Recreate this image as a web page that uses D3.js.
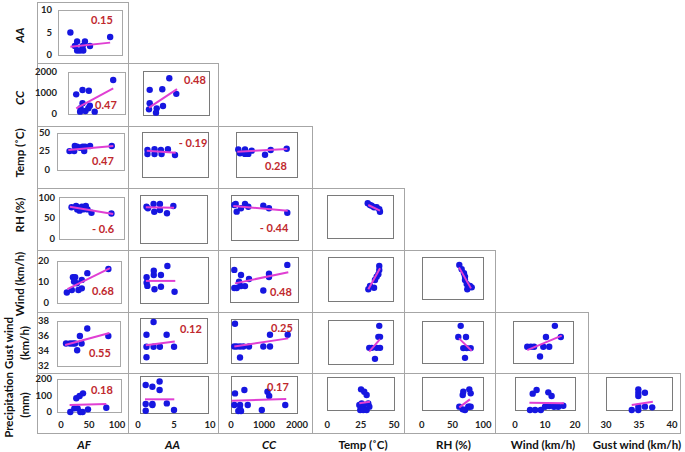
<!DOCTYPE html>
<html><head><meta charset="utf-8">
<script src="https://cdn.jsdelivr.net/npm/d3@7"></script>
<style>
html,body{margin:0;padding:0;background:#fff;}
svg{display:block;font-family:Lato,"Open Sans",sans-serif;}
</style></head>
<body>
<script>
// ---------- variables / axes ----------
const colNames = ["AF","AA","CC","Temp (˚C)","RH (%)","Wind (km/h)","Gust wind (km/h)"];
const rowNames = [["AA"],["CC"],["Temp (˚C)"],["RH (%)"],["Wind (km/h)"],["Gust wind","(km/h)"],["Precipitation","(mm)"]];
const colDomains = [[0,100],[0,10],[0,2000],[0,50],[0,100],[0,20],[30,40]];
const rowDomains = [[0,10],[0,2000],[0,50],[0,100],[0,20],[32,38],[0,200]];
const colTicks = [[0,50,100],[0,5,10],[0,1000,2000],[0,25,50],[0,50,100],[0,10,20],[30,35,40]];
const rowTicks = [[0,5,10],[0,1000,2000],[0,25,50],[0,50,100],[0,10,20],[32,34,36,38],[0,100,200]];

// ---------- scatter values per panel [x, y] ----------
const AA_AF = [[15,5],[27,3],[23,2],[27,1],[32,1],[37,2],[41,3],[38,1],[50,2],[86,4]];
const CC_AF = [[8,930],[21,1135],[34,1100],[21,505],[17,270],[16,110],[27,140],[33,270],[36,390],[46,110],[84,1610]];
const CC_AA = [[1.2,1130],[3,1160],[4,1655],[5,950],[1.2,530],[1.1,255],[2.2,300],[2.1,105],[3.1,405]];
const TEMP_AF = [[14,25],[22,25],[23,32],[27,31],[32,29.6],[36.5,31],[39,25],[40.5,31],[49,32],[86,32]];
const TEMP_AA = [[1.1,30],[1.1,25.5],[2.1,30.7],[2.1,25.5],[3,30],[3.1,25.5],[4,30.7],[5,24.5]];
const TEMP_CC = [[85,31],[141,26.7],[305,31],[305,26],[413,26],[525,29.6],[961,25],[1148,30.3],[1672,31.8]];
const RH_AF = [[15,76],[23,79],[25,71],[29,68],[33,77.5],[35,71],[40,79],[43,71],[50,63],[85,61]];
const RH_AA = [[1.2,75.5],[1.4,72],[2.2,81],[2.3,65],[3.1,81],[3.1,68.5],[4.1,61.6],[5,77]];
const RH_CC = [[140,80],[169,63],[297,70.4],[416,80],[514,74],[960,76],[1129,70.4],[1673,60.7],[98,77.8]];
const RH_TEMP = [[30.8,80.8],[32.5,77],[33.8,75.3],[35.5,71.6],[37.5,71.6],[39.5,67],[40,61.4]];
const WIND_AF = [[10,4.8],[19,6],[21,12.1],[25,12.1],[23,10],[28,9.2],[31,6],[37,6.8],[37,10.8],[47,14],[85,16]];
const WIND_AA = [[1.2,11.2],[1.2,8.8],[1.3,7.4],[2.2,14.1],[2.2,12.2],[2.3,5.9],[3.2,12.2],[3.2,7],[4.1,16.2],[5.1,4.8]];
const WIND_CC = [[126,14.2],[322,12],[264,9],[126,6.3],[196,6.3],[322,7.1],[439,7.1],[556,10.2],[975,5.2],[1142,11.1],[1142,12.5],[1678,16.4]];
const WIND_TEMP = [[39.2,15.8],[39.2,14],[38.5,12],[37.2,10.9],[35.9,9.4],[32.1,6.7],[30.8,5.2],[35.2,5.9]];
const WIND_RH = [[61.3,16.3],[65.2,14.3],[69,12.4],[70.7,10.8],[70.7,9.2],[73.5,7.3],[76.2,6.3],[79,6.3],[74.5,4.8],[81.8,5.7]];
const GUST_AF = [[8.6,35],[16,35],[21,35],[25,35],[29,34.1],[34,36],[37,35],[47.5,37],[86,36]];
const GUST_AA = [[1.2,35.8],[1.2,34.2],[1.2,32.8],[2.2,37.5],[2.2,34.2],[3.1,34.2],[4.05,35.8],[5.1,34.2]];
const GUST_CC = [[120,37.4],[99,34.3],[171,34.3],[270,34.3],[369,34.3],[540,34.3],[270,32.8],[969,34.3],[1169,35.9],[1169,34.3],[1700,35.9]];
const GUST_TEMP = [[39.2,37.2],[38.5,35.7],[39.8,35.7],[31.5,34.2],[33.4,34.2],[37.2,34.2],[39.8,34.2],[35.9,32.7]];
const GUST_RH = [[63.3,37.3],[59.4,35.7],[71.9,35.7],[67.5,34.1],[73,34.1],[79.5,34.1],[70.3,32.7]];
const GUST_WIND = [[4.7,34.3],[5.9,34.3],[7,34.3],[9,32.9],[10.1,34.3],[11,35.7],[12.1,34.3],[14,37.3],[16,35.7]];
const PREC_AF = [[16.6,0],[23.8,22],[27.3,83],[29.7,22],[33.2,97],[34.5,0],[39.3,113],[38.6,0],[48.2,16],[80.9,26]];
const PREC_AA = [[1.07,151],[2,142],[3,170],[3,124],[1.07,49],[2,49],[2,43],[4,52],[1.07,12],[5,16]];
const PREC_CC = [[122,106],[405,124],[101,43],[274,43],[274,20],[222,11],[304,11],[508,43],[934,16],[1105,115],[1157,92],[1644,43]];
const PREC_TEMP = [[25.3,124],[27.7,110],[29.5,90],[25.8,40],[24,30],[27,30],[30.7,40],[24.7,0],[27,0],[29.5,0],[31.5,20]];
const PREC_RH = [[66.6,90],[67.5,110],[77.3,124],[79.5,100],[75.6,20],[61,20],[66.6,4],[70.3,0],[77.3,20],[79.5,20]];
const PREC_WIND = [[5.9,100],[7.2,122],[11.1,108],[12.2,86],[5,0],[6.7,0],[8.6,0],[10,20],[11.4,24],[13,20],[14.4,20],[16.1,26]];
const PREC_GUST = [[34.9,124],[34.9,104],[34.9,84],[35.9,104],[33.9,0],[34.9,0],[34.9,20],[35.9,20],[37,16]];

// ---------- linear trend lines (end points) ----------
const AA_AF_fit = [[15,1.85],[86,2.75]];
const CC_AF_fit = [[8,270],[84,1215]];
const CC_AA_fit = [[1.1,330],[5.1,1160]];
const TEMP_AF_fit = [[12,26.4],[88.6,31.8]];
const TEMP_AA_fit = [[1,29.2],[5.1,27]];
const TEMP_CC_fit = [[52,28.4],[1692,31.4]];
const RH_AF_fit = [[12,77.5],[88,60]];
const RH_AA_fit = [[1.1,74.2],[5.1,73.4]];
const RH_CC_fit = [[69,75.6],[1685,65.1]];
const RH_TEMP_fit = [[31.2,76.9],[40,63.7]];
const WIND_AF_fit = [[11,6.4],[88,16.4]];
const WIND_AA_fit = [[1.1,9.6],[5.2,9.6]];
const WIND_CC_fit = [[146,8.3],[1707,13.2]];
const WIND_TEMP_fit = [[30.8,5.2],[39.8,14.7]];
const WIND_RH_fit = [[60.8,15.2],[80.6,5.2]];
const GUST_AF_fit = [[7,34.8],[88,36.4]];
const GUST_AA_fit = [[1.1,34.4],[5.2,34.9]];
const GUST_CC_fit = [[99,34.3],[1718,35.4]];
const GUST_TEMP_fit = [[31.5,33.7],[39.8,35.4]];
const GUST_RH_fit = [[60.6,35.5],[81.2,33.7]];
const GUST_WIND_fit = [[4.7,33.8],[16.3,35.9]];
const PREC_AF_fit = [[15.4,42],[80.9,48]];
const PREC_AA_fit = [[0.97,74],[5.04,74]];
const PREC_CC_fit = [[21,66],[1674,76]];
const PREC_TEMP_fit = [[24,40],[32,50]];
const PREC_RH_fit = [[61,16],[78.3,64]];
const PREC_WIND_fit = [[4.8,45],[16.3,41]];
const PREC_GUST_fit = [[33.9,30],[37.1,50]];

// ---------- correlation coefficients ----------
const corrRow = [0,1,1,2,2,2,3,3,4,4,5,5,5,6,6];
const corrCol = [0,0,1,0,1,2,0,2,0,2,0,1,2,0,2];
const corrText = ["0.15","0.47","0.48","0.47","- 0.19","0.28","- 0.6","- 0.44","0.68","0.48","0.55","0.12","0.25","0.18","0.17"];

// ---------- layout (pixels) ----------
const W = 685, H = 452;
const colEdges = [37,128,218,312,404,495,588,680];
const rowEdges = [2,63,126,188,250,312,373,433];
const colInset = [4,-2,0,0,0,0,0];
const boxes = [
  [[58,10,122,55]],
  [[68.3,71.7,125,114],[143.3,70.5,209.3,115]],
  [[57.3,132.7,124,169.5],[141.7,131.7,208.3,177.3],[235.7,132.3,296.7,177.3]],
  [[59,197.3,124,239],[140,195,206.7,242.7],[231,195,298.3,240],[326.7,195,393.3,238.3]],
  [[57.3,260.5,120.7,302.7],[140,257.3,207.7,302.7],[230,256.7,298.3,302.3],[328.3,256.7,393.3,300.7],[422.3,257.3,482.7,299.3]],
  [[57.3,321,120,366],[140,318.3,206.7,363.3],[231,319.3,297.7,363.3],[328.3,320,393.3,364],[421.7,321,483.3,362.7],[513.3,321,572.7,362.7]],
  [[57,379,121,412],[140,376,208,413],[231,376,297,413],[327.3,376.7,394,410],[421.7,376.7,483.3,410],[515,377.3,575,410],[606,376.7,672,410]]
];
const yLabelRight = [52,57,50,55,49,49,52];
const rowTitleY = [35,98,153,215,284,343,405];
const colTitleX = [84,172.5,269,363,453.5,543,637];
const corrPos = [[102,20],[106,105],[195,80],[103,161],[193,143],[276,166],[103,229],[274,228],[103,291],[281,292],[100,353],[191,329],[282,328],[102,390],[278,387]];

const panelData = [
  [[AA_AF,AA_AF_fit]],
  [[CC_AF,CC_AF_fit],[CC_AA,CC_AA_fit]],
  [[TEMP_AF,TEMP_AF_fit],[TEMP_AA,TEMP_AA_fit],[TEMP_CC,TEMP_CC_fit]],
  [[RH_AF,RH_AF_fit],[RH_AA,RH_AA_fit],[RH_CC,RH_CC_fit],[RH_TEMP,RH_TEMP_fit]],
  [[WIND_AF,WIND_AF_fit],[WIND_AA,WIND_AA_fit],[WIND_CC,WIND_CC_fit],[WIND_TEMP,WIND_TEMP_fit],[WIND_RH,WIND_RH_fit]],
  [[GUST_AF,GUST_AF_fit],[GUST_AA,GUST_AA_fit],[GUST_CC,GUST_CC_fit],[GUST_TEMP,GUST_TEMP_fit],[GUST_RH,GUST_RH_fit],[GUST_WIND,GUST_WIND_fit]],
  [[PREC_AF,PREC_AF_fit],[PREC_AA,PREC_AA_fit],[PREC_CC,PREC_CC_fit],[PREC_TEMP,PREC_TEMP_fit],[PREC_RH,PREC_RH_fit],[PREC_WIND,PREC_WIND_fit],[PREC_GUST,PREC_GUST_fit]]
];

const DOT = "#1616e0", FIT = "#e03fd3", RED = "#c0282d";

const svg = d3.select("body").append("svg").attr("width",W).attr("height",H);
svg.append("rect").attr("width",W).attr("height",H).attr("fill","#fff");

// outer cells
for (let r=0;r<7;r++) for (let c=0;c<=r;c++) {
  svg.append("rect")
    .attr("x",colEdges[c]+0.5).attr("y",rowEdges[r]+0.5)
    .attr("width",colEdges[c+1]-colEdges[c]).attr("height",rowEdges[r+1]-rowEdges[r])
    .attr("fill","none").attr("stroke","#a6a6a6").attr("stroke-width",1);
}

for (let r=0;r<7;r++) {
  for (let c=0;c<=r;c++) {
    const b = boxes[r][c];
    const x = d3.scaleLinear().domain(colDomains[c]).range([b[0]+colInset[c], b[2]-colInset[c]]);
    const y = d3.scaleLinear().domain(rowDomains[r]).range([b[3], b[1]]);
    const g = svg.append("g");
    g.append("rect").attr("x",Math.round(b[0])+0.5).attr("y",Math.round(b[1])+0.5)
      .attr("width",Math.round(b[2])-Math.round(b[0])).attr("height",Math.round(b[3])-Math.round(b[1]))
      .attr("fill","none").attr("stroke", c===0 ? "#a8a8a8" : "#7a7a7a").attr("stroke-width",1);
    const [pts, fit] = panelData[r][c];
    g.selectAll("circle").data(pts).join("circle")
      .attr("cx",d=>x(d[0])).attr("cy",d=>y(d[1])).attr("r",3.2).attr("fill",DOT);
    g.append("path").datum(fit)
      .attr("d", d3.line().x(d=>x(d[0])).y(d=>y(d[1])))
      .attr("stroke",FIT).attr("stroke-width",2).attr("fill","none");
    if (c===0) {
      g.selectAll("text.yt").data(rowTicks[r]).join("text")
        .attr("x",yLabelRight[r]).attr("y",d=>y(d)).attr("dy","0.35em")
        .attr("text-anchor","end").attr("font-size",9.5).attr("font-weight","bold").attr("fill","#222")
        .text(d=>d);
    }
    if (r===6) {
      g.selectAll("text.xt").data(colTicks[c]).join("text")
        .attr("x",d=>x(d)).attr("y",428)
        .attr("text-anchor","middle").attr("font-size",9.5).attr("font-weight","bold").attr("fill","#222")
        .text(d=>d);
    }
  }
}

// correlation labels
corrText.forEach((t,i)=>{
  svg.append("text").attr("x",corrPos[i][0]).attr("y",corrPos[i][1]).attr("dy","0.35em")
    .attr("text-anchor","middle").attr("font-size",11).attr("font-weight","bold").attr("fill",RED)
    .text(t);
});

// row titles (rotated)
rowNames.forEach((lines,r)=>{
  const italic = r<2;
  const n = lines.length;
  lines.forEach((ln,k)=>{
    const cx = n===1 ? 20 : (k===0 ? 9 : 25);
    svg.append("text")
      .attr("transform",`translate(${cx},${rowTitleY[r]}) rotate(-90)`)
      .attr("dy","0.35em").attr("text-anchor","middle")
      .attr("font-size",11.5).attr("font-weight","bold").attr("font-style",italic?"italic":"normal")
      .attr("fill","#111").text(ln);
  });
});

// column titles
colNames.forEach((t,c)=>{
  svg.append("text").attr("x",colTitleX[c]).attr("y",445).attr("dy","0.35em")
    .attr("text-anchor","middle").attr("font-size",11.5).attr("font-weight","bold")
    .attr("font-style", c<3 ? "italic":"normal").attr("fill","#111").text(t);
});
</script>
</body></html>
